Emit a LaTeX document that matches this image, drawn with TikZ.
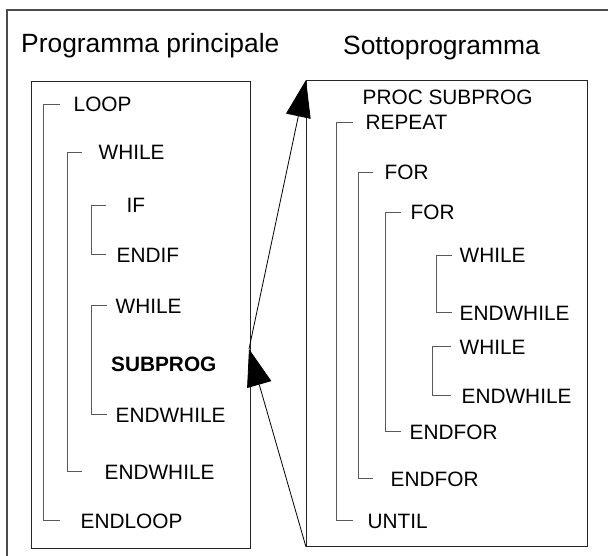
\documentclass[tikz,border=0pt]{standalone}
\usepackage{fontspec}
\setmainfont{Liberation Sans}
\usetikzlibrary{arrows.meta, positioning}

% bracket: x of the vertical bar, x where the ticks end, opening and closing keyword
\newcommand{\bracket}[4]{%
  \draw[brk] (#2,0 |- #3.west) -- (#1,0 |- #3.west) -- (#1,0 |- #4.west) -- (#2,0 |- #4.west);}

\begin{document}
\begin{tikzpicture}[
        x=1pt, y=-1pt,
        title/.style={font=\fontsize{26.4}{30}\selectfont, anchor=base west, inner sep=0pt},
        kw/.style={font=\fontsize{20.8}{24}\selectfont, anchor=base west, inner sep=0pt},
        frame/.style={draw=black!85, line width=1pt, anchor=north west, inner sep=0pt},
        brk/.style={draw=black!65, line width=1pt},
        link/.style={-{Triangle[length=37pt, width=25pt]}, line width=0.8pt}
    ]
        \useasboundingbox (0,0) rectangle (608,556);
        % page frame
        \draw[black!70, line width=1.2pt] (7,556) |- (608,10);

        \node[title] (maintitle) at (21,53) {Programma principale};
        \node[title] (subtitle) at (343,54.5) {Sottoprogramma};

        \node[frame, minimum width=219pt, minimum height=467pt] (mainbox) at (31,81) {};
        \node[frame, minimum width=281pt, minimum height=466pt] (subbox) at (306,80) {};

        % main program
        \node[kw] (loop) at (73.5,112) {LOOP};
        \node[kw] (while) at (98.5,160) {WHILE};
        \node[kw] (if) at (126.5,213) {IF};
        \node[kw] (endif) at (116.5,262) {ENDIF};
        \node[kw] (whileb) at (115.5,313) {WHILE};
        \node[kw] (sub) at (111,371) {\textbf{SUBPROG}};
        \node[kw] (endwhileb) at (115.5,422) {ENDWHILE};
        \node[kw] (endwhile) at (104.5,479) {ENDWHILE};
        \node[kw] (endloop) at (80.5,528) {ENDLOOP};

        % subprogram
        \node[kw] (proc) at (362.5,105) {PROC SUBPROG};
        \node[kw] (repeat) at (365.5,130) {REPEAT};
        \node[kw] (for) at (384.5,180) {FOR};
        \node[kw] (forb) at (410.5,220) {FOR};
        \node[kw] (whc) at (459.5,263) {WHILE};
        \node[kw] (endwhc) at (459.5,320) {ENDWHILE};
        \node[kw] (whd) at (459.5,354) {WHILE};
        \node[kw] (endwhd) at (461.5,403) {ENDWHILE};
        \node[kw] (endforb) at (409.5,439) {ENDFOR};
        \node[kw] (endfor) at (390.5,486) {ENDFOR};
        \node[kw] (until) at (367.5,528) {UNTIL};

        \bracket{43}{60}{loop}{endloop}
        \bracket{67}{82}{while}{endwhile}
        \bracket{91}{106}{if}{endif}
        \bracket{91}{107}{whileb}{endwhileb}
        \bracket{336}{353}{repeat}{until}
        \bracket{358}{373}{for}{endfor}
        \bracket{385}{401}{forb}{endforb}
        \bracket{436}{452}{whc}{endwhc}
        \bracket{432}{451}{whd}{endwhd}

        % call and return
        \coordinate (callpt) at (249,349);
        \draw[link] (callpt) -- (subbox.north west);
        \draw[link] (subbox.south west) -- (callpt);
    \end{tikzpicture}
\end{document}
